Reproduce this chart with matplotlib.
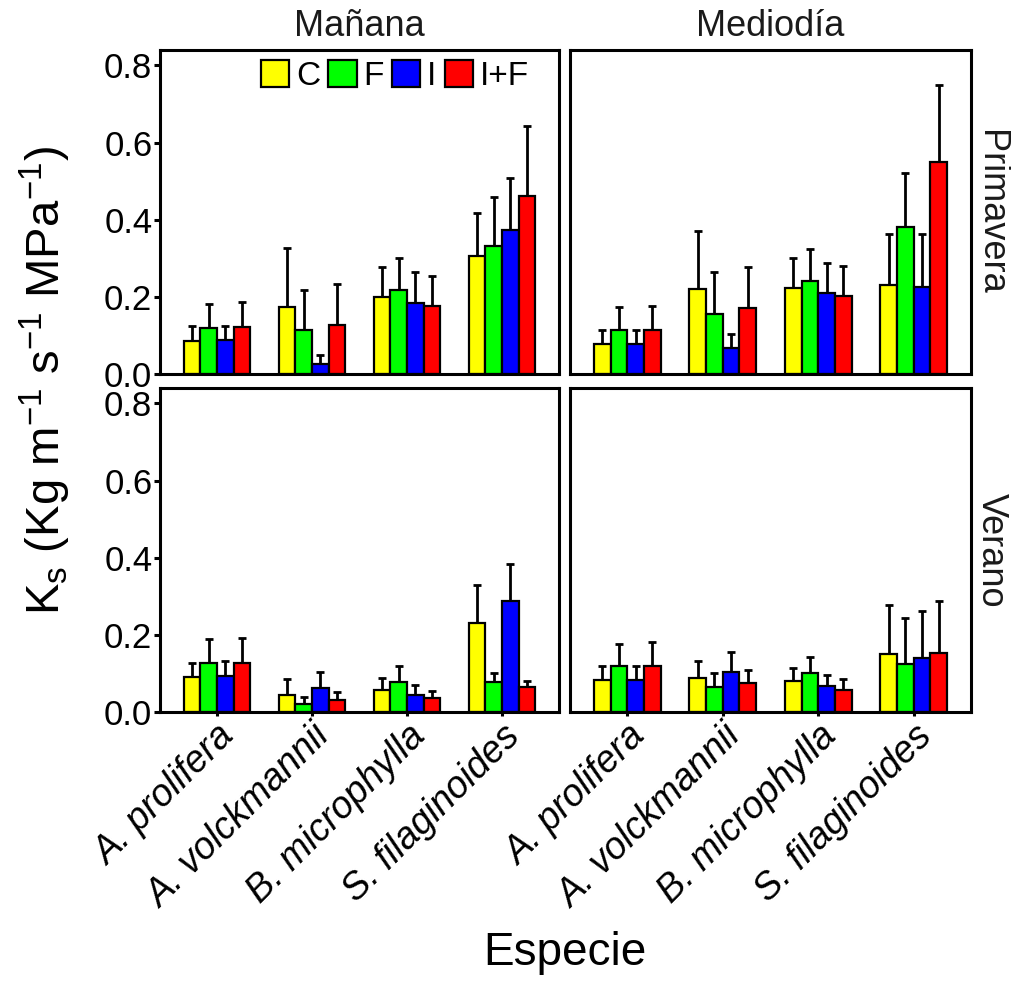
import numpy as np
import matplotlib
matplotlib.use("Agg")
import matplotlib.pyplot as plt

plt.rcParams["font.family"] = ["Liberation Sans", "DejaVu Sans"]
plt.rcParams["mathtext.fontset"] = "custom"
plt.rcParams["mathtext.rm"] = "Liberation Sans"
plt.rcParams["mathtext.it"] = "Liberation Sans:italic"

species = ["A. prolifera", "A. volckmannii", "B. microphylla", "S. filaginoides"]
treatments = ["C", "F", "I", "I+F"]
colors = ["#FFFF00", "#00FF00", "#0000FF", "#FF0000"]
periods = ["Mañana", "Mediodía"]
seasons = ["Primavera", "Verano"]

# rows: species, columns: treatments (C, F, I, I+F)
mean_man_prim = [[0.085, 0.119, 0.087, 0.121],
                 [0.175, 0.113, 0.025, 0.128],
                 [0.199, 0.219, 0.184, 0.177],
                 [0.307, 0.333, 0.374, 0.462]]
se_man_prim = [[0.039, 0.062, 0.038, 0.065],
               [0.152, 0.105, 0.025, 0.105],
               [0.079, 0.083, 0.080, 0.077],
               [0.111, 0.125, 0.134, 0.180]]

mean_med_prim = [[0.077, 0.113, 0.078, 0.115],
                 [0.220, 0.156, 0.068, 0.172],
                 [0.222, 0.242, 0.211, 0.202],
                 [0.230, 0.380, 0.226, 0.550]]
se_med_prim = [[0.038, 0.061, 0.036, 0.062],
               [0.150, 0.109, 0.036, 0.106],
               [0.078, 0.082, 0.078, 0.078],
               [0.134, 0.142, 0.138, 0.200]]

mean_man_ver = [[0.091, 0.126, 0.094, 0.127],
                [0.045, 0.022, 0.062, 0.032],
                [0.056, 0.077, 0.043, 0.036],
                [0.231, 0.077, 0.289, 0.064]]
se_man_ver = [[0.036, 0.062, 0.038, 0.065],
              [0.041, 0.017, 0.042, 0.020],
              [0.031, 0.043, 0.026, 0.018],
              [0.098, 0.023, 0.094, 0.016]]

mean_med_ver = [[0.082, 0.119, 0.084, 0.120],
                [0.087, 0.065, 0.104, 0.075],
                [0.080, 0.100, 0.068, 0.058],
                [0.151, 0.125, 0.139, 0.153]]
se_med_ver = [[0.037, 0.058, 0.036, 0.062],
              [0.045, 0.035, 0.051, 0.035],
              [0.034, 0.043, 0.029, 0.028],
              [0.126, 0.119, 0.124, 0.136]]

panels = {
    (0, 0): (mean_man_prim, se_man_prim),
    (0, 1): (mean_med_prim, se_med_prim),
    (1, 0): (mean_man_ver, se_man_ver),
    (1, 1): (mean_med_ver, se_med_ver),
}

W, H = 1012, 981
fig = plt.figure(figsize=(W / 100, H / 100), dpi=100)

col_x = [(160, 559), (570, 971)]
row_y = [(50, 374), (388, 712)]

bar_w = 0.175
x_idx = np.arange(1, len(species) + 1)
for (r, c), (means, ses) in panels.items():
    x0, x1 = col_x[c]
    y0, y1 = row_y[r]
    ax = fig.add_axes([x0 / W, 1 - y1 / H, (x1 - x0) / W, (y1 - y0) / H])
    m = np.array(means)
    s = np.array(ses)
    handles = []
    for t in range(len(treatments)):
        xs = x_idx + (t - 1.5) * bar_w
        ax.errorbar(xs, m[:, t], yerr=[np.zeros(len(species)), s[:, t]],
                    fmt="none", ecolor="black", elinewidth=2.0,
                    capsize=3, capthick=2.0, zorder=1)
        h = ax.bar(xs, m[:, t], width=bar_w, color=colors[t],
                   edgecolor="black", linewidth=1.6, zorder=2,
                   label=treatments[t])
        handles.append(h)
    ax.set_xlim(0.4, 4.6)
    ax.set_ylim(0, 0.84)
    for sp in ax.spines.values():
        sp.set_linewidth(2.2)
    ax.set_yticks([0.0, 0.2, 0.4, 0.6, 0.8])
    ax.set_xticks(x_idx)
    ax.tick_params(axis="both", direction="out", length=4, width=2.2,
                   color="black", labelsize=25, pad=1.5)
    if c == 0:
        ax.set_yticklabels(["0.0", "0.2", "0.4", "0.6", "0.8"])
    else:
        ax.tick_params(axis="y", left=False, labelleft=False)
    if r == 1:
        ax.set_xticklabels(species, rotation=45, ha="right", va="top",
                           rotation_mode="anchor", fontstyle="italic",
                           fontsize=27)
        ax.tick_params(axis="x", length=3)
    else:
        ax.tick_params(axis="x", bottom=False, labelbottom=False)
    if (r, c) == (0, 0):
        ax.legend(handles=handles, labels=treatments, ncol=4,
                  loc="upper left", bbox_to_anchor=(261 / W, 1 - 60 / H),
                  bbox_transform=fig.transFigure, frameon=False,
                  fontsize=24, handlelength=0.85, handleheight=0.85,
                  handletextpad=0.2, columnspacing=0.25, borderpad=0,
                  borderaxespad=0)

# facet strips
for c, name in enumerate(periods):
    x0, x1 = col_x[c]
    fig.text((x0 + x1) / 2 / W, 1 - 26 / H, name, ha="center", va="center",
             fontsize=26, color="#1A1A1A")
for r, name in enumerate(seasons):
    y0, y1 = row_y[r]
    fig.text(991 / W, 1 - (y0 + y1) / 2 / H, name, ha="center", va="center",
             rotation=-90, fontsize=26, color="#1A1A1A")

fig.text(45 / W, 1 - 381 / H,
         r"K$_\mathregular{s}$ (Kg m$^{-1}$ s$^{-1}$ MPa$^{-1}$)",
         rotation=90, ha="center", va="center", fontsize=34)
fig.text(565 / W, 1 - 953 / H, "Especie", ha="center", va="center",
         fontsize=33)

fig.savefig("out.png", dpi=100, facecolor="white")
